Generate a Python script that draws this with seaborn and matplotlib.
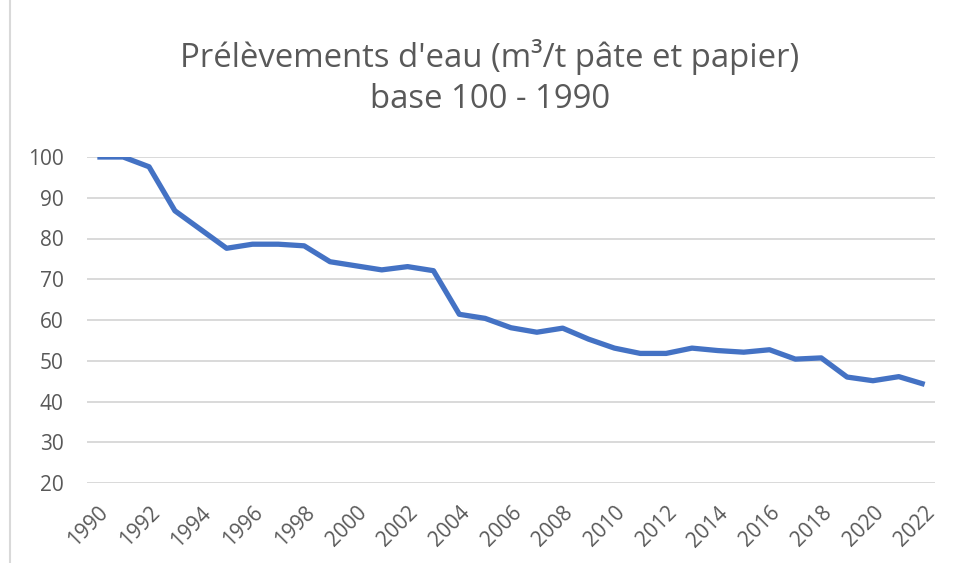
import matplotlib
matplotlib.use("Agg")
import matplotlib.pyplot as plt
import seaborn as sns
import pandas as pd
from matplotlib.lines import Line2D

years = list(range(1990, 2023))
values = [100, 100, 97.6, 86.8, 82.2, 77.6, 78.6, 78.6, 78.2, 74.3,
          73.3, 72.3, 73.1, 72.1, 61.4, 60.4, 58.1, 57.0, 58.0, 55.3,
          53.1, 51.8, 51.8, 53.1, 52.5, 52.1, 52.7, 50.4, 50.7, 46.0,
          45.1, 46.1, 44.2]
title_lines = ["Prélèvements d'eau (m³/t pâte et papier)", "base 100 - 1990"]
y_ticks = [20, 30, 40, 50, 60, 70, 80, 90, 100]
x_ticks = list(range(1990, 2023, 2))

df = pd.DataFrame({"year": years, "value": values})

sns.set_theme(style="white")
plt.rcParams['font.family'] = ['Open Sans', 'DejaVu Sans']

W, H = 959, 563
fig = plt.figure(figsize=(W / 100, H / 100), dpi=100)
ax = fig.add_axes([87 / W, 1 - 483 / H, (935 - 87) / W, (483 - 157) / H])

sns.lineplot(data=df, x="year", y="value", ax=ax, color="#4472C4",
             linewidth=3.8, solid_capstyle="butt", zorder=3)

ax.set_xlim(1989.6, 2022.4)
ax.set_ylim(20, 100)
ax.set_yticks(y_ticks)
ax.set_xticks(x_ticks)
ax.set_xticklabels([str(x) for x in x_ticks], rotation=45, ha="right",
                   rotation_mode="anchor")
ax.set_xlabel("")
ax.set_ylabel("")
for y in y_ticks:
    ax.axhline(y, color="#D9D9D9", linewidth=1.4, zorder=1)
for s in ax.spines.values():
    s.set_visible(False)
ax.tick_params(axis="y", length=0, labelsize=15, colors="#595959", pad=17)
ax.tick_params(axis="x", length=0, labelsize=15, colors="#595959", pad=14)

fig.text(490 / W, 1 - 67 / H, title_lines[0], ha="center", va="baseline",
         fontsize=23.7, color="#595959")
fig.text(490 / W, 1 - 108 / H, title_lines[1], ha="center", va="baseline",
         fontsize=23.7, color="#595959")

fig.add_artist(Line2D([10 / W, 10 / W], [0, 1], transform=fig.transFigure,
                      color="#D9D9D9", linewidth=1.5))

fig.savefig("out.png", dpi=100, facecolor="white")
